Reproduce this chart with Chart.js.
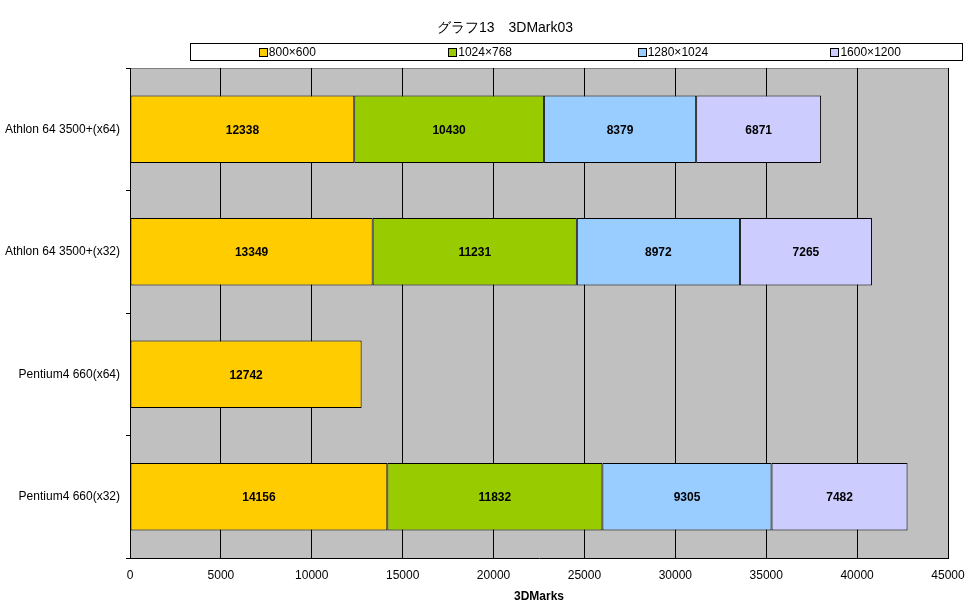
<!DOCTYPE html>
<html>
<head>
<meta charset="utf-8">
<script src="https://cdn.jsdelivr.net/npm/chart.js@4/dist/chart.umd.min.js"></script>
<style>
  body { margin: 0; background: #fff; font-family: "Liberation Sans", "DejaVu Sans", sans-serif; }
  #wrap { position: relative; width: 970px; height: 604px; }
  #title { position: absolute; left: 0; width: 1010px; top: 19px; text-align: center; font-size: 14px; color: #000; }
  #legend { position: absolute; left: 190px; top: 43px; width: 773px; height: 18px; border: 1px solid #000;
            display: flex; align-items: center; font-size: 12px; box-sizing: border-box; }
  #legend .item { flex: 1; text-align: center; }
  #legend .sw { display: inline-block; width: 7px; height: 7px; border: 1px solid #000; margin-right: 1px; vertical-align: -1px; }
</style>
</head>
<body>
<div id="wrap">
  <canvas id="c" width="970" height="604"></canvas>
  <div id="title">グラフ13　3DMark03</div>
  <div id="legend"></div>
</div>
<script>
const categories = ['Athlon 64 3500+(x64)', 'Athlon 64 3500+(x32)', 'Pentium4 660(x64)', 'Pentium4 660(x32)'];
const seriesNames = ['800×600', '1024×768', '1280×1024', '1600×1200'];
const seriesColors = ['#FFCC00', '#99CC00', '#99CCFF', '#CCCCFF'];
const res800 = [12338, 13349, 12742, 14156];
const res1024 = [10430, 11231, null, 11832];
const res1280 = [8379, 8972, null, 9305];
const res1600 = [6871, 7265, null, 7482];
const seriesValues = [res800, res1024, res1280, res1600];

// legend box
const legend = document.getElementById('legend');
seriesNames.forEach((name, i) => {
  const d = document.createElement('div');
  d.className = 'item';
  d.innerHTML = `<span class="sw" style="background:${seriesColors[i]}"></span>${name}`;
  legend.appendChild(d);
});

const FONT = '"Liberation Sans", "DejaVu Sans", sans-serif';

// gray plot background with grey top/right frame
const plotBg = {
  id: 'plotBg',
  beforeDraw(chart) {
    const { ctx, chartArea: a } = chart;
    ctx.save();
    ctx.fillStyle = '#C0C0C0';
    ctx.fillRect(a.left, a.top, a.right - a.left, a.bottom - a.top);
    ctx.strokeStyle = '#808080';
    ctx.lineWidth = 1;
    ctx.beginPath();
    ctx.moveTo(a.left, a.top + 0.5);
    ctx.lineTo(a.right + 0.5, a.top + 0.5);
    ctx.lineTo(a.right + 0.5, a.bottom);
    ctx.stroke();
    ctx.restore();
  }
};

// value labels centered in each segment
const valueLabels = {
  id: 'valueLabels',
  afterDatasetsDraw(chart) {
    const ctx = chart.ctx;
    ctx.save();
    ctx.font = 'bold 12px ' + FONT;
    ctx.fillStyle = '#000';
    ctx.textAlign = 'center';
    ctx.textBaseline = 'middle';
    chart.data.datasets.forEach((ds, di) => {
      chart.getDatasetMeta(di).data.forEach((bar, i) => {
        const v = ds.data[i];
        if (v == null) return;
        const p = bar.getProps(['x', 'y', 'base'], true);
        ctx.fillText(String(v), (p.x + p.base) / 2, p.y + 1);
      });
    });
    ctx.restore();
  }
};

new Chart(document.getElementById('c'), {
  type: 'bar',
  data: {
    labels: categories,
    datasets: seriesNames.map((name, i) => ({
      label: name,
      data: seriesValues[i],
      backgroundColor: seriesColors[i],
      borderColor: '#000',
      borderWidth: 1,
      borderSkipped: false,
      categoryPercentage: 1,
      barPercentage: 0.55
    }))
  },
  options: {
    indexAxis: 'y',
    responsive: false,
    animation: false,
    layout: { padding: { top: 68, right: 22, left: 0, bottom: 0 } },
    plugins: { legend: { display: false }, tooltip: { enabled: false } },
    scales: {
      x: {
        stacked: true,
        min: 0, max: 45000,
        ticks: { stepSize: 5000, color: '#000', font: { family: FONT, size: 12 }, padding: 10,
                 callback: v => String(v) },
        grid: { color: '#000', drawTicks: false },
        border: { color: '#000' },
        title: { display: true, text: '3DMarks', color: '#000', font: { family: FONT, size: 12, weight: 'bold' }, padding: { top: 0, bottom: 0 } },
        afterFit(s) { s.height = 46; s.paddingRight = 0; }
      },
      y: {
        stacked: true,
        ticks: { color: '#000', font: { family: FONT, size: 12 }, padding: 6 },
        grid: { offset: true, drawOnChartArea: false, color: '#000', tickLength: 4 },
        border: { color: '#000' },
        afterFit(s) { s.width = 130; }
      }
    }
  },
  plugins: [plotBg, valueLabels]
});
</script>
</body>
</html>
